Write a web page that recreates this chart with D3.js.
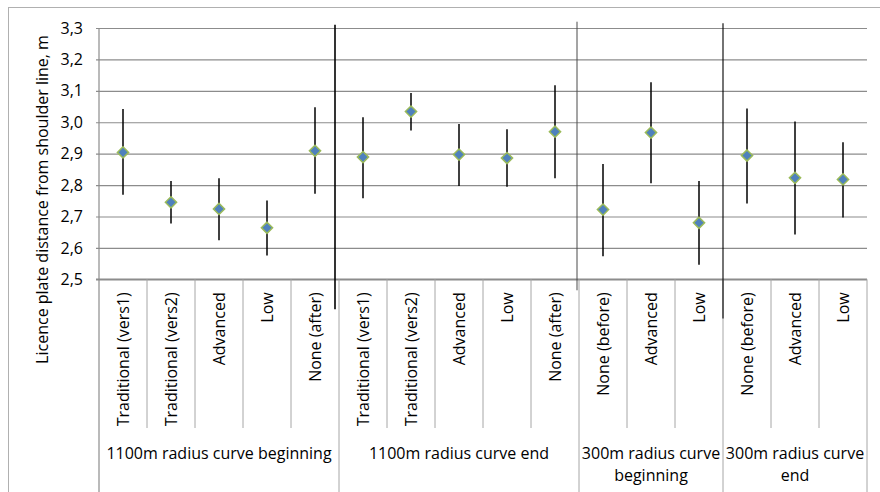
<!DOCTYPE html>
<html>
<head>
<meta charset="utf-8">
<script src="https://cdn.jsdelivr.net/npm/d3@7/dist/d3.min.js"></script>
<style>
  html, body { margin: 0; padding: 0; background: #fff; }
  svg { display: block; }
  text { font-family: "Open Sans", Lato, sans-serif; fill: #000; }
</style>
</head>
<body>
<svg id="chart" width="880" height="492"></svg>
<script>
// Measurement groups (two-level category axis)
const groups = [
  ["1100m radius curve beginning"],
  ["1100m radius curve end"],
  ["300m radius curve", "beginning"],
  ["300m radius curve", "end"]
];
const groupSizes = [5, 5, 3, 3];

// Marking types inside each group
const categories = [
  "Traditional (vers1)", "Traditional (vers2)", "Advanced", "Low", "None (after)",
  "Traditional (vers1)", "Traditional (vers2)", "Advanced", "Low", "None (after)",
  "None (before)", "Advanced", "Low",
  "None (before)", "Advanced", "Low"
];

// Mean distance and interval limits, m
const means = [2.904, 2.745, 2.724, 2.664, 2.909, 2.889, 3.034, 2.897, 2.886, 2.970, 2.722, 2.967, 2.680, 2.894, 2.823, 2.818];
const lows  = [2.769, 2.678, 2.624, 2.576, 2.772, 2.758, 2.974, 2.797, 2.795, 2.822, 2.573, 2.806, 2.546, 2.741, 2.643, 2.697];
const highs = [3.042, 2.813, 2.822, 2.751, 3.048, 3.016, 3.093, 2.994, 2.978, 3.118, 2.867, 3.127, 2.813, 3.044, 3.002, 2.936];

const yTicks = [2.5, 2.6, 2.7, 2.8, 2.9, 3.0, 3.1, 3.2, 3.3];
const yTitle = "Licence plate distance from shoulder line, m";

// Hand-drawn divider lines: [index of category boundary, x offset, top value, bottom value, width, colour]
const dividers = [
  [5, -4, 3.31, 2.405, 1.6, "#000"],
  [10, -2, 3.32, 2.465, 1, "#4a4a4a"],
  [13, 0, 3.315, 2.375, 1.1, "#000"]
];

const svg = d3.select("#chart");
const plot = { left: 99, right: 867, top: 28, bottom: 279.3 };
const catBottom = 428;
const svgBottom = 492;
const fontSize = 16;

const x = d3.scaleBand().domain(d3.range(categories.length)).range([plot.left, plot.right]).padding(0);
const y = d3.scaleLinear().domain([2.5, 3.3]).range([plot.bottom, plot.top]);

// outer chart frame
svg.append("rect")
  .attr("x", 8.5).attr("y", 7.5).attr("width", 900).attr("height", 520)
  .attr("fill", "none").attr("stroke", "#b0b0b0").attr("stroke-width", 1);

// horizontal gridlines + y axis
const yAxis = d3.axisLeft(y)
  .tickValues(yTicks)
  .tickSize(-(plot.right - plot.left))
  .tickPadding(16)
  .tickFormat(d => d3.format(".1f")(d).replace(".", ","));

const gy = svg.append("g").attr("transform", `translate(${plot.left},0)`).call(yAxis);
gy.select(".domain").remove();
gy.selectAll(".tick line").attr("stroke", "#8c8c8c").attr("stroke-width", 1.2).attr("x1", -3);
gy.selectAll(".tick text").attr("font-size", fontSize).attr("fill", "#000").attr("font-family", "'Open Sans', sans-serif");

// left axis line, extends through category label area
svg.append("line")
  .attr("x1", plot.left).attr("x2", plot.left)
  .attr("y1", plot.top).attr("y2", svgBottom)
  .attr("stroke", "#8c8c8c").attr("stroke-width", 1.2);

// bottom axis line
svg.append("line")
  .attr("x1", plot.left - 3).attr("x2", plot.right)
  .attr("y1", plot.bottom).attr("y2", plot.bottom)
  .attr("stroke", "#8c8c8c").attr("stroke-width", 1.4);

// category boundary ticks
const groupStarts = [];
let acc = 0;
groupSizes.forEach(s => { groupStarts.push(acc); acc += s; });
const boundaries = d3.range(1, categories.length + 1);
svg.append("g").selectAll("line")
  .data(boundaries)
  .join("line")
  .attr("x1", i => i === categories.length ? plot.right : x(i))
  .attr("x2", i => i === categories.length ? plot.right : x(i))
  .attr("y1", plot.bottom)
  .attr("y2", i => (groupStarts.includes(i) || i === categories.length) ? svgBottom : catBottom)
  .attr("stroke", "#a6a6a6").attr("stroke-width", 1);

// category labels (rotated)
svg.append("g").selectAll("text")
  .data(categories)
  .join("text")
  .attr("transform", (d, i) => `translate(${x(i) + x.bandwidth() / 2},${plot.bottom + 13}) rotate(-90)`)
  .attr("text-anchor", "end")
  .attr("dy", "0.36em")
  .attr("font-size", fontSize)
  .text(d => d);

// group labels
svg.append("g").selectAll("text")
  .data(groups)
  .join("text")
  .attr("text-anchor", "middle")
  .attr("font-size", fontSize)
  .attr("x", (g, k) => {
    const a = groupStarts[k], b = a + groupSizes[k];
    const xa = x(a), xb = b === categories.length ? plot.right : x(b);
    return (xa + xb) / 2;
  })
  .attr("y", 459)
  .each(function(lines) {
    const t = d3.select(this);
    const cx = t.attr("x");
    lines.forEach((ln, j) => {
      t.append("tspan").attr("x", cx).attr("dy", j === 0 ? 0 : 22).text(ln);
    });
  });

// y axis title
svg.append("text")
  .attr("transform", `translate(48,199.5) rotate(-90)`)
  .attr("text-anchor", "middle")
  .attr("font-size", fontSize)
  .text(yTitle);

// divider lines
svg.append("g").selectAll("line")
  .data(dividers)
  .join("line")
  .attr("x1", d => x(d[0]) + d[1]).attr("x2", d => x(d[0]) + d[1])
  .attr("y1", d => y(d[2])).attr("y2", d => y(d[3]))
  .attr("stroke", d => d[5]).attr("stroke-width", d => d[4]);

// interval bars
const cx = i => x(i) + x.bandwidth() / 2;
svg.append("g").selectAll("line")
  .data(d3.range(categories.length))
  .join("line")
  .attr("x1", cx).attr("x2", cx)
  .attr("y1", i => y(highs[i])).attr("y2", i => y(lows[i]))
  .attr("stroke", "#000").attr("stroke-width", 1.5);

// mean markers
const diamond = d3.symbol().type(d3.symbolDiamond2).size(80);
svg.append("g").selectAll("path")
  .data(d3.range(categories.length))
  .join("path")
  .attr("d", diamond)
  .attr("transform", i => `translate(${cx(i)},${y(means[i])})`)
  .attr("fill", "#4f81bd")
  .attr("stroke", "#9bbb59")
  .attr("stroke-width", 1.5);
</script>
</body>
</html>
